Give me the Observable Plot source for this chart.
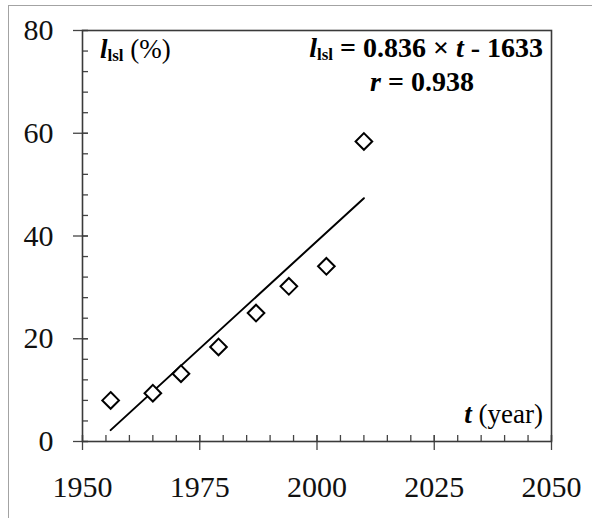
<!DOCTYPE html>
<html>
<head>
<meta charset="utf-8">
<script src="https://cdn.jsdelivr.net/npm/d3@7"></script>
<script src="https://cdn.jsdelivr.net/npm/@observablehq/plot@0.6"></script>
<style>
  html, body { margin: 0; padding: 0; background: #fff; overflow: hidden; }
  #wrap { position: relative; width: 592px; height: 518px; }
  #edge { position: absolute; left: 8px; top: 5px; width: 700px; height: 700px;
          border: 1.5px solid #a3a3a3; pointer-events: none; }
  #chart svg, #chart svg text {
    font-family: "Liberation Serif", "Times New Roman", "DejaVu Serif", serif !important;
  }
  svg text { white-space: pre; }
</style>
</head>
<body>
<div id="wrap"><div id="chart"></div><div id="edge"></div></div>
<script>
// Observation years and the measured share l_lsl (%)
const years = [1956, 1965, 1971, 1979, 1987, 1994, 2002, 2010];
const shares = [8.0, 9.4, 13.2, 18.4, 25.0, 30.2, 34.1, 58.4];

// Fitted linear trend, as printed on the chart
const slope = 0.836;
const intercept = -1633;
const corr = 0.938;

// Axis ticks
const xTicks = [1950, 1975, 2000, 2025, 2050];
const yTicks = [0, 20, 40, 60, 80];
const xMinor = d3.range(1950, 2051, 5);
const yMinor = d3.range(0, 81, 4);

const points = years.map((t, i) => ({t, l: shares[i]}));
const fit = d3.extent(years).map(t => ({t, l: slope * t + intercept}));

const W = 592, H = 518;
const mL = 82, mR = 41, mT = 30, mB = 77;
const axisColor = "#444";
const ink = "#111";
const tickFont = 30;

const chart = Plot.plot({
  width: W,
  height: H,
  marginLeft: mL,
  marginRight: mR,
  marginTop: mT,
  marginBottom: mB,
  x: {domain: [1950, 2050]},
  y: {domain: [0, 80]},
  style: {background: "#fff", color: ink, overflow: "visible"},
  marks: [
    // minor ticks, pointing inward
    Plot.axisY(yMinor, {tickSize: 6, dx: 6, fill: "none", label: null, stroke: axisColor, strokeWidth: 1.3}),
    Plot.axisX(xMinor, {tickSize: 6, dy: -6, fill: "none", label: null, stroke: axisColor, strokeWidth: 1.3}),
    // major ticks, crossing the axis line
    Plot.axisY(yTicks, {tickSize: 15, dx: 6, fill: "none", label: null, stroke: axisColor, strokeWidth: 1.3}),
    Plot.axisX(xTicks, {tickSize: 15, dy: -6, fill: "none", label: null, stroke: axisColor, strokeWidth: 1.3}),
    // tick labels
    Plot.axisY(yTicks, {tickSize: 0, tickPadding: 29, label: null, tickFormat: "d", fill: ink, fontSize: tickFont}),
    Plot.axisX(xTicks, {tickSize: 0, tickPadding: 34, label: null, tickFormat: "d", fill: ink, fontSize: tickFont}),
    Plot.frame({stroke: "#3a3a3a", strokeWidth: 1.6}),
    // regression line
    Plot.line(fit, {x: "t", y: "l", stroke: "#000", strokeWidth: 2}),
    // observations
    Plot.dot(points, {x: "t", y: "l", symbol: "diamond2", r: 7.5, stroke: "#000", strokeWidth: 2, fill: "#fff"})
  ]
});

document.getElementById("chart").append(chart);

// Annotations with mixed italic / bold / subscript runs
const svg = d3.select(chart);
const fx0 = mL, fx1 = W - mR, fy0 = mT, fy1 = H - mB;

function rich(x, y, anchor, size, weight, runs) {
  const t = svg.append("text")
    .attr("x", x).attr("y", y)
    .attr("text-anchor", anchor)
    .attr("font-size", size)
    .attr("font-weight", weight)
    .attr("fill", "#000");
  let shift = 0;
  for (const r of runs) {
    const s = t.append("tspan").text(r.text);
    const want = r.sub ? Math.round(size * 0.12) : 0;
    if (want !== shift) { s.attr("dy", want - shift); shift = want; }
    if (r.italic) s.attr("font-style", "italic");
    if (r.bold) s.attr("font-weight", "bold");
    if (r.sub) s.attr("font-size", Math.round(size * 0.62));
  }
  return t;
}

// y-axis title
rich(fx0 + 18, fy0 + 28, "start", 27, "normal", [
  {text: "l", italic: true, bold: true},
  {text: "lsl", bold: true, sub: true},
  {text: " (%)"}
]);

// fitted equation and correlation
rich(fx1 - 8, fy0 + 27, "end", 28, "bold", [
  {text: "l", italic: true},
  {text: "lsl", sub: true},
  {text: ` = ${slope} × `},
  {text: "t", italic: true},
  {text: ` - ${-intercept}`}
]);
rich(fx1 - 129, fy0 + 61, "middle", 28, "bold", [
  {text: "r", italic: true},
  {text: ` = ${corr}`}
]);

// x-axis title
rich(fx1 - 8, fy1 - 18, "end", 27, "normal", [
  {text: "t", italic: true, bold: true},
  {text: " (year)"}
]);
</script>
</body>
</html>
